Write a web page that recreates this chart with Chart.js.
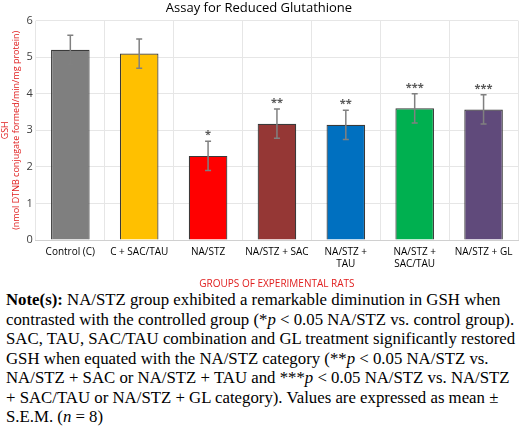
<!DOCTYPE html>
<html>
<head>
<meta charset="utf-8">
<script src="https://cdn.jsdelivr.net/npm/chart.js@4"></script>
<style>
  body { margin: 0; background: #fff; width: 520px; }
  #wrap { width: 520px; height: 290px; }
  .note { font-family: "Liberation Serif", serif; font-size: 16.8px; line-height: 19.5px; margin: 0 4px 0 6px; color: #000; }
</style>
</head>
<body>
<div id="wrap"><canvas id="chart"></canvas></div>
<div class="note"><b>Note(s):</b> NA/STZ group exhibited a remarkable diminution in GSH when contrasted with the controlled group (*<i>p</i> &lt; 0.05 NA/STZ vs. control group). SAC, TAU, SAC/TAU combination and GL treatment significantly restored GSH when equated with the NA/STZ category (**<i>p</i> &lt; 0.05 NA/STZ vs. NA/STZ + SAC or NA/STZ + TAU and ***<i>p</i> &lt; 0.05 NA/STZ vs. NA/STZ + SAC/TAU or NA/STZ + GL category). Values are expressed as mean ± S.E.M. (<i>n</i> = 8)</div>
<script>
const groups = ["Control (C)", "C + SAC/TAU", "NA/STZ", "NA/STZ + SAC", ["NA/STZ +", "TAU"], ["NA/STZ +", "SAC/TAU"], "NA/STZ + GL"];
const gshMeans = [5.2, 5.1, 2.3, 3.18, 3.15, 3.6, 3.57];
const gshErrors = [0.4, 0.4, 0.4, 0.4, 0.4, 0.4, 0.4];
const marks = ["", "", "*", "**", "**", "***", "***"];
const barColors = ["#7f7f7f", "#ffc000", "#ff0000", "#953735", "#0070c0", "#00b050", "#604a7b"];

const errorBars = {
  id: "errorBars",
  afterDatasetsDraw(chart) {
    const ctx = chart.ctx;
    const y = chart.scales.y;
    const meta = chart.getDatasetMeta(0);
    ctx.save();
    ctx.strokeStyle = "#808080";
    ctx.lineWidth = 1.5;
    meta.data.forEach((bar, i) => {
      const top = y.getPixelForValue(gshMeans[i] + gshErrors[i]);
      const bot = y.getPixelForValue(gshMeans[i] - gshErrors[i]);
      ctx.beginPath();
      ctx.moveTo(bar.x, top); ctx.lineTo(bar.x, bot);
      ctx.moveTo(bar.x - 3, top); ctx.lineTo(bar.x + 3, top);
      ctx.moveTo(bar.x - 3, bot); ctx.lineTo(bar.x + 3, bot);
      ctx.stroke();
      if (marks[i]) {
        ctx.fillStyle = "#595959";
        ctx.font = "bold 11px 'Open Sans', sans-serif";
        ctx.textAlign = "center";
        ctx.fillText(marks[i], bar.x, top - 3);
      }
    });
    ctx.restore();
  }
};

new Chart(document.getElementById("chart"), {
  type: "bar",
  data: {
    labels: groups,
    datasets: [{
      data: gshMeans,
      backgroundColor: barColors,
      borderColor: "#3a3a3a",
      borderWidth: 1.2,
      barPercentage: 0.56,
      categoryPercentage: 1
    }]
  },
  plugins: [errorBars],
  options: {
    responsive: true,
    maintainAspectRatio: false,
    animation: false,
    layout: { padding: { right: 2, top: 0 } },
    plugins: {
      legend: { display: false },
      tooltip: { enabled: false },
      title: {
        display: true,
        text: "Assay for Reduced Glutathione",
        color: "#000",
        font: { family: "'Open Sans', sans-serif", size: 13, weight: "normal" },
        padding: { top: 0, bottom: 5 }
      }
    },
    scales: {
      y: {
        min: 0, max: 6,
        ticks: { stepSize: 1, color: "#404040", font: { family: "'Open Sans', sans-serif", size: 11 } },
        grid: { color: "#e6e6e6", drawTicks: false },
        border: { display: false },
        title: {
          display: true,
          text: ["GSH", "(nmol DTNB conjugate formed/min/mg protein)"],
          color: "#e02020",
          font: { family: "'Open Sans', sans-serif", size: 9 },
          padding: { top: 0, bottom: 2 }
        }
      },
      x: {
        ticks: { color: "#000", maxRotation: 0, autoSkip: false, padding: 6, font: { family: "'Open Sans', sans-serif", size: 10 } },
        grid: { color: "#e6e6e6", drawTicks: false, offset: true },
        border: { color: "#d0d0d0" },
        title: {
          display: true,
          text: "GROUPS OF EXPERIMENTAL RATS",
          color: "#e02020",
          font: { family: "'Open Sans', sans-serif", size: 10 },
          padding: { top: 2, bottom: 0 }
        }
      }
    }
  }
});
</script>
</body>
</html>
